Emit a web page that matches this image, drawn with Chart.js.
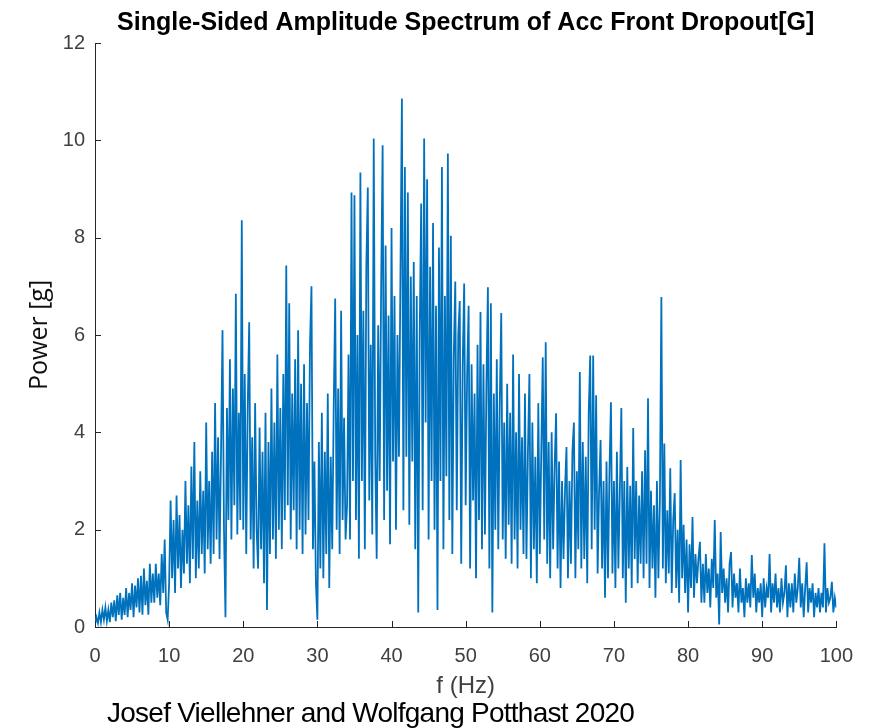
<!DOCTYPE html>
<html>
<head>
<meta charset="utf-8">
<script src="https://cdn.jsdelivr.net/npm/chart.js@4.4.1/dist/chart.umd.min.js"></script>
<style>
  html, body { margin: 0; padding: 0; background: #fff; }
  #wrap { position: relative; width: 870px; height: 728px; overflow: hidden; }
  #caption {
    position: absolute; left: 107px; top: 699px;
    font: 28px "Liberation Sans", Arial, sans-serif; line-height: 28px;
    letter-spacing: -0.75px; color: #000; white-space: nowrap;
  }
</style>
</head>
<body>
<div id="wrap">
  <canvas id="grafico" width="870" height="728"></canvas>
  <div id="caption">Josef Viellehner and Wolfgang Potthast 2020</div>
</div>
<script>
// Espectro, un valor cada 0.2 Hz (cada fila = 2 Hz)
const pasoHz = 0.2;
const potencia = [
  0.05, 0.20, 0.08, 0.30, 0.10, 0.35, 0.15, 0.40, 0.12, 0.35,
  0.10, 0.50, 0.20, 0.55, 0.12, 0.65, 0.25, 0.70, 0.15, 0.60,
  0.25, 0.80, 0.20, 0.70, 0.35, 0.90, 0.20, 0.85, 0.40, 1.00,
  0.30, 1.05, 0.25, 1.20, 0.45, 0.95, 0.25, 1.30, 0.50, 1.10,
  0.50, 1.30, 0.60, 1.10, 0.45, 1.50, 0.70, 1.80, 0.30, 0.15,
  0.90, 2.60, 1.00, 2.20, 0.70, 2.70, 1.20, 2.30, 0.80, 2.00,
  1.10, 3.00, 1.30, 2.50, 0.90, 3.30, 1.40, 3.80, 1.00, 2.60,
  1.20, 3.20, 1.50, 2.80, 1.10, 4.20, 1.60, 3.00, 1.30, 3.60,
  1.50, 4.60, 1.80, 3.90, 1.40, 3.60, 6.10, 2.00, 0.20, 4.50,
  2.20, 5.50, 1.80, 4.90, 2.50, 6.85, 1.90, 4.40, 2.20, 8.36,
  2.00, 5.20, 1.50, 4.50, 6.26, 1.80, 3.90, 1.20, 4.60, 2.00,
  1.20, 4.10, 1.60, 3.60, 0.90, 4.40, 0.35, 3.80, 1.50, 4.90,
  1.80, 4.20, 1.40, 5.60, 2.00, 4.50, 1.60, 5.20, 2.20, 7.43,
  2.50, 6.65, 1.80, 4.80, 2.40, 5.50, 1.60, 6.10, 2.00, 5.00,
  1.50, 5.40, 1.90, 4.60, 2.20, 5.80, 7.00, 1.60, 3.40, 0.90,
  0.15, 3.80, 1.20, 4.40, 1.00, 3.60, 1.50, 4.80, 0.80, 3.50,
  1.60, 4.50, 6.75, 2.00, 4.90, 1.50, 6.50, 2.20, 4.30, 1.80,
  2.50, 5.60, 1.80, 8.93, 3.00, 8.87, 2.20, 6.00, 1.40, 9.34,
  3.00, 6.50, 1.60, 7.40, 9.03, 2.60, 5.80, 1.90, 10.04, 3.50,
  1.40, 6.20, 3.00, 7.00, 9.90, 2.20, 7.84, 2.80, 6.40, 1.70,
  8.20, 3.40, 6.80, 2.00, 6.00, 3.50, 7.20, 10.86, 2.40, 9.45,
  3.50, 8.93, 2.10, 7.20, 3.40, 7.50, 1.60, 6.80, 0.30, 6.00,
  8.70, 2.40, 10.04, 4.20, 9.20, 1.80, 7.40, 3.00, 8.30, 2.00,
  6.60, 0.35, 7.80, 3.00, 9.45, 1.60, 6.80, 3.10, 9.73, 2.20,
  8.04, 1.50, 5.60, 7.10, 2.40, 6.00, 6.70, 1.30, 5.40, 7.06,
  2.50, 5.20, 6.60, 1.20, 5.40, 2.60, 4.80, 1.00, 5.80, 2.20,
  6.47, 1.60, 5.40, 1.90, 5.00, 6.98, 1.20, 6.65, 0.30, 4.80,
  2.00, 5.50, 1.60, 4.60, 6.45, 1.80, 4.20, 1.40, 5.00, 2.10,
  4.40, 1.30, 5.60, 1.80, 4.00, 1.20, 5.20, 2.00, 3.90, 1.50,
  4.80, 1.40, 3.60, 5.20, 1.00, 4.20, 1.60, 3.50, 0.90, 4.60,
  1.50, 3.60, 5.54, 1.80, 5.85, 1.30, 3.80, 1.00, 4.00, 1.60,
  3.30, 4.39, 1.20, 3.40, 0.80, 3.00, 1.40, 2.80, 3.70, 1.00,
  3.00, 1.30, 3.60, 4.20, 1.00, 3.20, 1.60, 5.24, 1.20, 3.80,
  1.40, 3.50, 0.90, 4.40, 5.58, 1.60, 5.58, 2.00, 4.76, 1.10,
  2.80, 3.84, 1.20, 3.00, 0.60, 3.40, 1.00, 3.20, 4.62, 1.10,
  3.00, 0.80, 3.60, 1.20, 2.80, 4.50, 1.00, 3.00, 0.50, 3.29,
  1.20, 2.90, 0.80, 4.09, 1.40, 3.00, 0.90, 2.70, 1.30, 3.20,
  1.00, 3.63, 1.30, 4.70, 0.80, 2.80, 1.20, 2.50, 0.60, 3.00,
  1.00, 2.60, 6.78, 1.20, 3.77, 0.90, 2.40, 1.10, 3.26, 0.70,
  2.20, 2.75, 0.80, 2.00, 0.50, 3.43, 1.00, 2.10, 0.70, 1.80,
  0.30, 1.70, 0.80, 2.26, 0.60, 1.50, 0.90, 1.40, 1.75, 0.50,
  1.30, 0.50, 1.50, 0.70, 1.20, 0.40, 1.40, 0.80, 2.20, 0.60,
  1.10, 0.05, 1.95, 0.70, 1.20, 0.50, 1.00, 0.30, 1.30, 1.54,
  0.40, 1.10, 0.60, 0.90, 0.30, 1.20, 0.50, 0.80, 0.20, 1.00,
  0.50, 0.90, 0.40, 1.48, 0.60, 1.10, 0.30, 0.80, 0.50, 0.90,
  0.20, 1.00, 0.40, 0.80, 0.60, 1.50, 0.30, 0.90, 0.50, 1.10,
  0.40, 0.80, 0.30, 1.00, 0.50, 0.70, 1.27, 0.20, 0.90, 0.40,
  0.90, 0.30, 1.10, 0.50, 0.80, 1.42, 0.40, 0.90, 0.20, 0.80,
  1.33, 0.30, 0.80, 0.50, 0.90, 0.20, 0.70, 0.40, 0.80, 0.30,
  0.70, 0.40, 1.72, 0.30, 0.80, 0.50, 0.60, 0.93, 0.30, 0.60,
  0.40
];

const ticksX = [0, 10, 20, 30, 40, 50, 60, 70, 80, 90, 100];
const ticksY = [0, 2, 4, 6, 8, 10, 12];

const titulo = "Single-Sided Amplitude Spectrum of Acc Front Dropout[G]";
const tituloX = "f (Hz)";
const tituloY = "Power [g]";

const puntos = potencia.map((p, i) => ({ x: +(i * pasoHz).toFixed(1), y: p }));

// Marcas de los ejes hacia adentro, estilo MATLAB
const marcasInternas = {
  id: "marcasInternas",
  afterDraw(chart) {
    const { ctx, chartArea, scales } = chart;
    ctx.save();
    ctx.strokeStyle = "#262626";
    ctx.lineWidth = 1;
    ctx.beginPath();
    ticksX.forEach((v) => {
      const px = Math.round(scales.x.getPixelForValue(v)) + 0.5;
      ctx.moveTo(px, chartArea.bottom);
      ctx.lineTo(px, chartArea.bottom - 6);
    });
    ticksY.forEach((v) => {
      const py = Math.round(scales.y.getPixelForValue(v)) + 0.5;
      ctx.moveTo(chartArea.left, py);
      ctx.lineTo(chartArea.left + 6, py);
    });
    ctx.stroke();
    ctx.restore();
  },
};

const ctx = document.getElementById("grafico");

const chart = new Chart(ctx, {
  type: "line",
  data: {
    datasets: [
      {
        data: puntos,
        borderColor: "#0072BD",
        borderWidth: 1.8,
        pointRadius: 0,
        tension: 0,
        fill: false,
      },
    ],
  },
  options: {
    responsive: false,
    animation: false,
    devicePixelRatio: 1,
    layout: { padding: { left: 25, right: 32, top: 0, bottom: 27 } },
    plugins: {
      legend: { display: false },
      tooltip: { enabled: false },
      title: {
        display: true,
        text: titulo,
        fullSize: false,
        color: "#000",
        font: { family: "'Liberation Sans', Arial, sans-serif", size: 25, weight: "bold" },
        padding: { top: 8, bottom: 5 },
      },
    },
    scales: {
      x: {
        type: "linear",
        min: 0,
        max: 100,
        afterFit: (s) => { s.height = 74; },
        afterBuildTicks: (s) => { s.ticks = ticksX.map((v) => ({ value: v })); },
        grid: { display: false, drawTicks: false },
        border: { display: true, color: "#262626", width: 1 },
        ticks: {
          padding: 17,
          maxRotation: 0,
          color: "#404040",
          font: { family: "'Liberation Sans', Arial, sans-serif", size: 20 },
        },
        title: {
          display: true,
          text: tituloX,
          color: "#404040",
          font: { family: "'Liberation Sans', Arial, sans-serif", size: 24 },
          padding: { top: 5, bottom: 0 },
        },
      },
      y: {
        min: 0,
        max: 12,
        afterFit: (s) => { s.width = 70; },
        afterBuildTicks: (s) => { s.ticks = ticksY.map((v) => ({ value: v })); },
        grid: { display: false, drawTicks: false },
        border: { display: true, color: "#262626", width: 1 },
        ticks: {
          padding: 10,
          color: "#404040",
          font: { family: "'Liberation Sans', Arial, sans-serif", size: 20 },
        },
        title: {
          display: true,
          text: tituloY,
          color: "#111",
          font: { family: "'Open Sans', sans-serif", size: 25 },
          padding: { top: 0, bottom: 0 },
        },
      },
    },
  },
  plugins: [marcasInternas],
});
</script>
</body>
</html>
